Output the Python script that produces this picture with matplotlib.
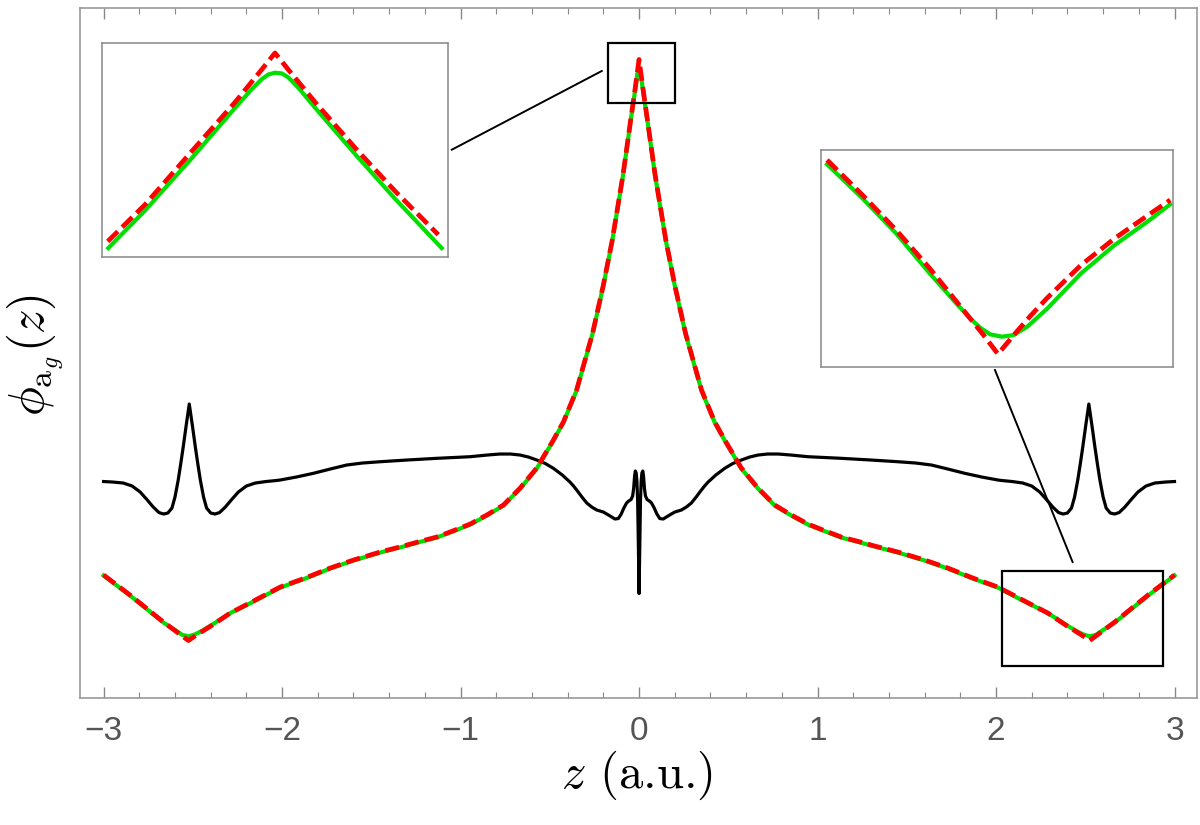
import matplotlib
matplotlib.use('Agg')
import matplotlib.pyplot as plt
from matplotlib.ticker import MultipleLocator
from matplotlib.patches import Rectangle

plt.rcParams['mathtext.fontset'] = 'cm'
plt.rcParams['font.family'] = ['Liberation Sans', 'DejaVu Sans']

# ---------------- data ----------------
# exact (red dashed) orbital
RED_Z = [-3.0, -2.852, -2.665, -2.525, -2.48, -2.39, -2.29, -2.16, -2.01, -1.87, -1.73, -1.6,
         -1.45, -1.32, -1.23, -1.133, -1.03, -0.946, -0.853, -0.76, -0.666, -0.573, -0.48,
         -0.424, -0.35, -0.26, -0.2, -0.15, -0.09, -0.05, -0.02, 0.0, 0.02, 0.05, 0.09, 0.15,
         0.2, 0.26, 0.35, 0.424, 0.48, 0.573, 0.666, 0.76, 0.853, 0.946, 1.03, 1.133, 1.23,
         1.32, 1.45, 1.6, 1.73, 1.87, 2.01, 2.16, 2.29, 2.39, 2.48, 2.525, 2.665, 2.852, 3.0]
RED_PHI = [1.23, 1.03, 0.76, 0.575, 0.63, 0.73, 0.85, 0.97, 1.11, 1.20, 1.30, 1.38,
           1.46, 1.52, 1.565, 1.61, 1.68, 1.74, 1.83, 1.93, 2.10, 2.30, 2.58,
           2.76, 3.08, 3.65, 4.13, 4.58, 5.23, 5.74, 6.12, 6.385, 6.12, 5.74, 5.23, 4.58,
           4.13, 3.65, 3.08, 2.76, 2.58, 2.30, 2.10, 1.93, 1.83, 1.74, 1.68, 1.61, 1.565,
           1.52, 1.46, 1.38, 1.30, 1.20, 1.11, 0.97, 0.85, 0.73, 0.63, 0.575, 0.76, 1.03, 1.23]

# approximate (green) orbital
GREEN_Z = [-3.0, -2.852, -2.665, -2.6, -2.56, -2.525, -2.49, -2.45, -2.39, -2.29, -2.16, -2.01,
           -1.87, -1.73, -1.6, -1.45, -1.32, -1.23, -1.133, -1.03, -0.946, -0.853, -0.76,
           -0.666, -0.573, -0.48, -0.424, -0.35, -0.26, -0.2, -0.15, -0.09, -0.05, -0.02,
           -0.01, 0.0, 0.01, 0.02, 0.05, 0.09, 0.15, 0.2, 0.26, 0.35, 0.424, 0.48, 0.573,
           0.666, 0.76, 0.853, 0.946, 1.03, 1.133, 1.23, 1.32, 1.45, 1.6, 1.73, 1.87, 2.01,
           2.16, 2.29, 2.39, 2.45, 2.49, 2.525, 2.56, 2.6, 2.665, 2.852, 3.0]
GREEN_PHI = [1.225, 1.025, 0.755, 0.68, 0.632, 0.617, 0.635, 0.67, 0.735, 0.85, 0.965, 1.105,
             1.195, 1.295, 1.375, 1.455, 1.515, 1.56, 1.605, 1.675, 1.735, 1.825, 1.925,
             2.095, 2.295, 2.575, 2.755, 3.075, 3.645, 4.125, 4.575, 5.225, 5.735, 6.10,
             6.24, 6.30, 6.24, 6.10, 5.735, 5.225, 4.575, 4.125, 3.645, 3.075, 2.755, 2.575, 2.295,
             2.095, 1.925, 1.825, 1.735, 1.675, 1.605, 1.56, 1.515, 1.455, 1.375, 1.295, 1.195, 1.105,
             0.965, 0.85, 0.735, 0.67, 0.635, 0.617, 0.632, 0.68, 0.755, 1.025, 1.225]

# black curve
BLACK_Z = [-3.0, -2.95, -2.89, -2.84, -2.795, -2.76, -2.722, -2.69, -2.664, -2.64, -2.617, -2.60,
           -2.582, -2.568, -2.554, -2.537, -2.52, -2.503, -2.486, -2.472, -2.458, -2.44, -2.423,
           -2.40, -2.376, -2.35, -2.318, -2.28, -2.245, -2.20, -2.15, -2.09, -2.033, -2.011,
           -1.92, -1.825, -1.73, -1.638, -1.55, -1.45, -1.3, -1.133, -0.947, -0.85, -0.78,
           -0.72, -0.667, -0.62, -0.573, -0.525, -0.48, -0.43, -0.387, -0.367, -0.345, -0.32,
           -0.293, -0.265, -0.237, -0.2, -0.162, -0.135, -0.116, -0.1, -0.085, -0.07, -0.058,
           -0.045, -0.036, -0.03, -0.025, -0.021, -0.016, -0.012, -0.008, -0.004, 0.0,
           0.004, 0.008, 0.012, 0.016, 0.021, 0.025, 0.03, 0.036, 0.045, 0.058, 0.07, 0.085,
           0.1, 0.116, 0.135, 0.162, 0.2, 0.237, 0.265, 0.293, 0.32, 0.345, 0.367, 0.387,
           0.43, 0.48, 0.525, 0.573, 0.62, 0.667, 0.72, 0.78, 0.85, 0.947, 1.133, 1.3, 1.45,
           1.55, 1.638, 1.73, 1.825, 1.92, 2.011, 2.033, 2.09, 2.15, 2.20, 2.245, 2.28, 2.318,
           2.35, 2.376, 2.40, 2.423, 2.44, 2.458, 2.472, 2.486, 2.503, 2.52, 2.537, 2.554,
           2.568, 2.582, 2.60, 2.617, 2.64, 2.664, 2.69, 2.722, 2.76, 2.795, 2.84, 2.89, 2.95,
           3.0]
BLACK_PHI = [2.165, 2.16, 2.15, 2.12, 2.06, 1.99, 1.91, 1.855, 1.84, 1.85, 1.90, 2.01,
             2.18, 2.34, 2.51, 2.73, 2.94, 2.73, 2.51, 2.34, 2.18, 2.01, 1.90,
             1.85, 1.84, 1.855, 1.91, 1.99, 2.06, 2.12, 2.15, 2.165, 2.175, 2.18,
             2.21, 2.247, 2.29, 2.33, 2.35, 2.363, 2.38, 2.397, 2.413, 2.43, 2.44,
             2.44, 2.43, 2.41, 2.38, 2.345, 2.297, 2.23, 2.16, 2.12, 2.07, 2.01,
             1.95, 1.91, 1.88, 1.86, 1.82, 1.79, 1.795, 1.84, 1.90, 1.95, 1.97,
             1.985, 2.02, 2.10, 2.22, 2.27, 2.25, 2.17, 1.98, 1.55, 1.045,
             1.55, 1.98, 2.17, 2.25, 2.27, 2.22, 2.10, 2.02, 1.985, 1.97, 1.95, 1.90,
             1.84, 1.795, 1.79, 1.82, 1.86, 1.88, 1.91, 1.95, 2.01, 2.07, 2.12, 2.16,
             2.23, 2.297, 2.345, 2.38, 2.41, 2.43, 2.44, 2.44, 2.43, 2.413, 2.397, 2.38, 2.363,
             2.35, 2.33, 2.29, 2.247, 2.21, 2.18, 2.175, 2.165, 2.15, 2.12, 2.06, 1.99, 1.91,
             1.855, 1.84, 1.85, 1.90, 2.01, 2.18, 2.34, 2.51, 2.73, 2.94, 2.73, 2.51,
             2.34, 2.18, 2.01, 1.90, 1.85, 1.84, 1.855, 1.91, 1.99, 2.06, 2.12, 2.15, 2.16,
             2.165]

# top inset (around the central cusp)
IN1_RED_Z = [-0.01673, -0.0130, -0.00833, -0.0040, -0.00133, 0.0, 0.00133, 0.0040, 0.00817,
             0.0120, 0.01633]
IN1_RED_PHI = [6.2593, 6.2887, 6.3313, 6.3705, 6.3967, 6.410, 6.3967, 6.3708, 6.3327,
               6.2996, 6.2647]
IN1_GREEN_Z = [-0.01667, -0.0130, -0.00833, -0.0040, -0.00233, -0.00133, -0.00067, 0.0,
               0.00067, 0.00133, 0.00233, 0.0040, 0.00817, 0.0120, 0.01667]
IN1_GREEN_PHI = [6.2540, 6.2840, 6.3258, 6.3660, 6.381, 6.389, 6.3928, 6.3942,
                 6.3937, 6.3905, 6.3823, 6.3663, 6.3277, 6.2935, 6.2540]

# right inset (around the outer cusp)
IN2_RED_Z = [2.0821, 2.1730, 2.2596, 2.3461, 2.4327, 2.4846, 2.5218, 2.5625, 2.6058, 2.6491,
             2.7356, 2.8222, 2.9087, 2.9650]
IN2_RED_PHI = [1.157, 1.052, 0.947, 0.832, 0.707, 0.632, 0.575, 0.632, 0.690, 0.744,
               0.842, 0.922, 0.992, 1.037]
IN2_GREEN_Z = [2.0821, 2.1730, 2.2596, 2.3461, 2.4067, 2.4500, 2.4760, 2.5019, 2.5322, 2.5625,
               2.5971, 2.6491, 2.7356, 2.8222, 2.9087, 2.9650]
IN2_GREEN_PHI = [1.144, 1.042, 0.937, 0.817, 0.737, 0.682, 0.654, 0.634, 0.627, 0.632,
                 0.657, 0.712, 0.817, 0.902, 0.974, 1.024]

X_TICKS = [-3, -2, -1, 0, 1, 2, 3]

# ---------------- styling ----------------
GREEN = '#00e000'
RED = '#ff0000'
FRAME = '#999999'

fig = plt.figure(figsize=(12, 8.25), dpi=100)
ax = fig.add_axes([0.0667, 0.1539, 0.9308, 0.8364])

ax.plot(BLACK_Z, BLACK_PHI, color='black', lw=2.3, zorder=2)
ax.plot(GREEN_Z, GREEN_PHI, color=GREEN, lw=3.0, zorder=3)
ax.plot(RED_Z, RED_PHI, color=RED, lw=3.4, linestyle=(0, (3, 1.3)), zorder=4)

ax.set_xlim(-3.132, 3.126)
ax.set_ylim(0, 6.90)
ax.set_xticks(X_TICKS)
ax.xaxis.set_minor_locator(MultipleLocator(0.2))
ax.set_yticks([])
ax.tick_params(axis='x', which='both', direction='in', top=True, bottom=True,
               colors='#888888', labelcolor='#555555', labelsize=24, pad=13)
ax.tick_params(axis='x', which='major', length=8, width=1.0)
ax.tick_params(axis='x', which='minor', length=4.5, width=0.8)
for s in ax.spines.values():
    s.set_color(FRAME)
    s.set_linewidth(1.2)

ax.set_xlabel(r'$z$ (a.u.)', fontsize=35, fontfamily='cmr10')
ax.xaxis.set_label_coords(0.4987, -0.1116)
ax.xaxis.label.set_va('center')
ax.set_ylabel(r'$\phi_{\mathrm{a}_g}(z)$', fontsize=35)
ax.yaxis.set_label_coords(-0.0403, 0.497)
ax.yaxis.label.set_va('center')

# zoom boxes and connector lines (annotation geometry)
BOX_TOP = (-0.175, 5.953, 0.378, 0.600)
BOX_RIGHT = (2.033, 0.318, 0.905, 0.953)
for (bx, by, bw, bh) in (BOX_TOP, BOX_RIGHT):
    ax.add_patch(Rectangle((bx, by), bw, bh, fill=False, edgecolor='black', lw=1.6, zorder=5))
LINK_TOP = ([-1.049, -0.209], [5.483, 6.27])
LINK_RIGHT = ([1.994, 2.429], [3.28, 1.36])
for lx, ly in (LINK_TOP, LINK_RIGHT):
    ax.plot(lx, ly, color='black', lw=1.4, zorder=5)

# insets
ax1 = fig.add_axes([0.08525, 0.6881, 0.2878, 0.2598])
ax1.plot(IN1_GREEN_Z, IN1_GREEN_PHI, color=GREEN, lw=3.0)
ax1.plot(IN1_RED_Z, IN1_RED_PHI, color=RED, lw=3.4, linestyle=(0, (3, 1.3)))
ax1.set_xlim(-0.01727, 0.01727)
ax1.set_ylim(6.2466, 6.418)

ax2 = fig.add_axes([0.6844, 0.5555, 0.2931, 0.2627])
ax2.plot(IN2_GREEN_Z, IN2_GREEN_PHI, color=GREEN, lw=3.0)
ax2.plot(IN2_RED_Z, IN2_RED_PHI, color=RED, lw=3.4, linestyle=(0, (3, 1.3)))
ax2.set_xlim(2.0672, 2.9721)
ax2.set_ylim(0.537, 1.187)

for a in (ax1, ax2):
    a.set_xticks([])
    a.set_yticks([])
    a.set_facecolor('white')
    for s in a.spines.values():
        s.set_color('#888888')
        s.set_linewidth(1.1)

fig.savefig('out.png', dpi=100)
